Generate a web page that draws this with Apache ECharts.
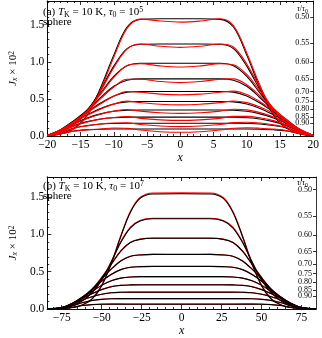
<!DOCTYPE html>
<html><head><meta charset="utf-8">
<script src="https://cdn.jsdelivr.net/npm/echarts@6/dist/echarts.min.js"></script>
<style>html,body{margin:0;padding:0;background:#fff}#c{width:322px;height:338px}</style>
</head><body><div id="c"></div>
<script>
// ---------- data ----------
const tauLabels = ['0.50','0.55','0.60','0.65','0.70','0.75','0.80','0.85','0.90','0.95'];
const labelPosA = [1.60,1.25,0.995,0.77,0.60,0.475,0.36,0.255,0.172,0.093];
const labelPosB = [1.60,1.25,0.995,0.77,0.60,0.475,0.36,0.255,0.172,0.093];

const xA = [-20,-18,-16,-14,-12,-10,-8,-6,-3,0,3,6,8,10,12,14,16,18,20];
const aBlack = [
 [0.006,0.032,0.103,0.284,0.648,1.09,1.469,1.572,1.58,1.58,1.58,1.572,1.469,1.09,0.648,0.284,0.103,0.032,0.006],
 [0.007,0.062,0.161,0.335,0.62,0.942,1.178,1.236,1.24,1.24,1.24,1.236,1.178,0.942,0.62,0.335,0.161,0.062,0.007],
 [0.008,0.078,0.196,0.353,0.578,0.804,0.946,0.98,0.98,0.98,0.98,0.98,0.946,0.804,0.578,0.353,0.196,0.078,0.008],
 [0.008,0.085,0.208,0.347,0.516,0.67,0.751,0.77,0.77,0.77,0.77,0.77,0.751,0.67,0.516,0.347,0.208,0.085,0.008],
 [0.008,0.084,0.204,0.324,0.444,0.54,0.591,0.6,0.6,0.6,0.6,0.6,0.591,0.54,0.444,0.324,0.204,0.084,0.008],
 [0.007,0.079,0.191,0.288,0.372,0.432,0.46,0.465,0.465,0.465,0.465,0.465,0.46,0.432,0.372,0.288,0.191,0.079,0.007],
 [0.007,0.07,0.168,0.242,0.298,0.334,0.348,0.35,0.35,0.35,0.35,0.35,0.348,0.334,0.298,0.242,0.168,0.07,0.007],
 [0.006,0.059,0.14,0.194,0.23,0.247,0.255,0.255,0.255,0.255,0.255,0.255,0.255,0.247,0.23,0.194,0.14,0.059,0.006],
 [0.004,0.046,0.108,0.141,0.162,0.169,0.172,0.172,0.172,0.172,0.172,0.172,0.172,0.169,0.162,0.141,0.108,0.046,0.004],
 [0.003,0.029,0.067,0.084,0.092,0.095,0.095,0.095,0.095,0.095,0.095,0.095,0.095,0.095,0.092,0.084,0.067,0.029,0.003]
];
const aRed = [
 [0.005,0.028,0.095,0.27,0.62,1.06,1.45,1.575,1.55,1.535,1.55,1.58,1.49,1.12,0.68,0.305,0.115,0.036,0.007],
 [0.006,0.057,0.152,0.32,0.6,0.92,1.17,1.24,1.21,1.195,1.21,1.24,1.2,0.97,0.65,0.355,0.175,0.068,0.008],
 [0.007,0.073,0.186,0.34,0.56,0.79,0.95,0.975,0.945,0.93,0.945,0.975,0.96,0.83,0.605,0.375,0.21,0.085,0.009],
 [0.007,0.08,0.197,0.335,0.5,0.66,0.765,0.765,0.735,0.72,0.735,0.765,0.77,0.69,0.54,0.368,0.222,0.092,0.009],
 [0.007,0.079,0.194,0.312,0.432,0.535,0.6,0.59,0.565,0.555,0.565,0.59,0.605,0.56,0.463,0.343,0.218,0.09,0.009],
 [0.006,0.074,0.181,0.278,0.362,0.43,0.47,0.45,0.428,0.42,0.428,0.45,0.472,0.45,0.39,0.305,0.204,0.085,0.008],
 [0.006,0.066,0.16,0.234,0.292,0.335,0.358,0.335,0.313,0.305,0.313,0.335,0.36,0.352,0.315,0.258,0.18,0.076,0.008],
 [0.005,0.055,0.133,0.188,0.228,0.25,0.263,0.238,0.218,0.21,0.218,0.238,0.265,0.265,0.245,0.207,0.15,0.064,0.007],
 [0.004,0.043,0.103,0.137,0.162,0.176,0.178,0.155,0.135,0.127,0.135,0.155,0.18,0.186,0.176,0.152,0.117,0.05,0.005],
 [0.003,0.027,0.064,0.082,0.095,0.108,0.103,0.08,0.058,0.05,0.058,0.08,0.105,0.112,0.105,0.093,0.074,0.032,0.004]
];

const xB = [-84,-75,-68,-62,-56,-50,-44,-38,-32,-26,-18,0,18,26,32,38,44,50,56,62,68,75,84];
const bBlack = [
 [0,0.005,0.019,0.054,0.131,0.309,0.603,0.973,1.298,1.483,1.542,1.545,1.542,1.483,1.298,0.973,0.603,0.309,0.131,0.054,0.019,0.005,0],
 [0,0.012,0.048,0.109,0.218,0.387,0.629,0.895,1.089,1.18,1.21,1.21,1.21,1.18,1.089,0.895,0.629,0.387,0.218,0.109,0.048,0.012,0],
 [0,0.016,0.066,0.142,0.256,0.417,0.597,0.777,0.891,0.934,0.948,0.948,0.948,0.934,0.891,0.777,0.597,0.417,0.256,0.142,0.066,0.016,0],
 [0.001,0.018,0.073,0.154,0.264,0.403,0.534,0.644,0.706,0.725,0.732,0.732,0.732,0.725,0.706,0.644,0.534,0.403,0.264,0.154,0.073,0.018,0.001],
 [0.001,0.018,0.08,0.16,0.257,0.371,0.463,0.528,0.56,0.568,0.571,0.571,0.571,0.568,0.56,0.528,0.463,0.371,0.257,0.16,0.08,0.018,0.001],
 [0,0.017,0.078,0.152,0.234,0.317,0.378,0.414,0.43,0.434,0.434,0.434,0.434,0.434,0.43,0.414,0.378,0.317,0.234,0.152,0.078,0.017,0],
 [0,0.016,0.072,0.14,0.205,0.26,0.299,0.317,0.323,0.325,0.325,0.325,0.325,0.325,0.323,0.317,0.299,0.26,0.205,0.14,0.072,0.016,0],
 [0,0.012,0.061,0.118,0.163,0.197,0.217,0.224,0.226,0.226,0.226,0.226,0.226,0.226,0.226,0.224,0.217,0.197,0.163,0.118,0.061,0.012,0],
 [0,0.009,0.044,0.085,0.113,0.129,0.137,0.139,0.139,0.139,0.139,0.139,0.139,0.139,0.139,0.139,0.137,0.129,0.113,0.085,0.044,0.009,0],
 [0,0.005,0.024,0.046,0.059,0.064,0.065,0.065,0.065,0.065,0.065,0.065,0.065,0.065,0.065,0.065,0.065,0.064,0.059,0.046,0.024,0.005,0]
];
const bRed = [
 [0,0.006,0.021,0.058,0.138,0.32,0.615,0.985,1.31,1.495,1.555,1.557,1.555,1.495,1.31,0.985,0.615,0.32,0.138,0.058,0.021,0.006,0],
 [0,0.013,0.05,0.113,0.224,0.395,0.638,0.905,1.098,1.188,1.217,1.217,1.217,1.188,1.098,0.905,0.638,0.395,0.224,0.113,0.05,0.013,0],
 [0,0.017,0.068,0.146,0.262,0.424,0.604,0.783,0.895,0.937,0.95,0.95,0.95,0.937,0.895,0.783,0.604,0.424,0.262,0.146,0.068,0.017,0],
 [0.001,0.019,0.075,0.158,0.269,0.408,0.538,0.646,0.707,0.726,0.732,0.731,0.732,0.726,0.707,0.646,0.538,0.408,0.269,0.158,0.075,0.019,0.001],
 [0.001,0.019,0.082,0.163,0.261,0.375,0.466,0.529,0.56,0.568,0.57,0.569,0.57,0.568,0.56,0.529,0.466,0.375,0.261,0.163,0.082,0.019,0.001],
 [0,0.018,0.08,0.155,0.237,0.32,0.38,0.415,0.43,0.433,0.433,0.432,0.433,0.433,0.43,0.415,0.38,0.32,0.237,0.155,0.08,0.018,0],
 [0,0.017,0.074,0.143,0.208,0.262,0.3,0.318,0.323,0.324,0.324,0.323,0.324,0.324,0.323,0.318,0.3,0.262,0.208,0.143,0.074,0.017,0],
 [0,0.013,0.063,0.12,0.165,0.198,0.218,0.224,0.225,0.225,0.225,0.224,0.225,0.225,0.225,0.224,0.218,0.198,0.165,0.12,0.063,0.013,0],
 [0,0.01,0.046,0.087,0.115,0.13,0.137,0.139,0.138,0.138,0.138,0.137,0.138,0.138,0.138,0.139,0.137,0.13,0.115,0.087,0.046,0.01,0],
 [0,0.006,0.025,0.047,0.06,0.065,0.066,0.065,0.064,0.064,0.064,0.064,0.064,0.064,0.064,0.065,0.066,0.065,0.06,0.047,0.025,0.006,0]
];

const xMajorA = [-20,-15,-10,-5,0,5,10,15,20];
const xMinorA = [-19,-18,-17,-16,-14,-13,-12,-11,-9,-8,-7,-6,-4,-3,-2,-1,1,2,3,4,6,7,8,9,11,12,13,14,16,17,18,19];
const xMajorB = [-75,-50,-25,0,25,50,75];
const xMinorB = [-80,-70,-65,-60,-55,-45,-40,-35,-30,-20,-15,-10,-5,5,10,15,20,30,35,40,45,55,60,65,70,80];
const yMajor = [0,0.5,1.0,1.5];
const yMinor = [0.1,0.2,0.3,0.4,0.6,0.7,0.8,0.9,1.1,1.2,1.3,1.4,1.6,1.7,1.8];

// ---------- chart ----------
const FONT = 'Liberation Serif';
const YMAX_A = 1.82, YMAX_B = 1.77;
const rich = {
  i: {fontFamily: FONT, fontStyle: 'italic', fontSize: 11},
  s: {fontFamily: FONT, fontStyle: 'italic', fontSize: 8, verticalAlign: 'bottom', lineHeight: 8},
  p: {fontFamily: FONT, fontSize: 7.5, verticalAlign: 'top', lineHeight: 7}
};
const fmtX = v => (v < 0 ? '\u2212' : '') + Math.abs(v);

function xAxis(grid, pos, min, max, vals, len, labels, name) {
  return {
    type: 'value', gridIndex: grid, position: pos, min: min, max: max,
    axisLine: {show: true, onZero: false, lineStyle: {color: '#000', width: 0.8}},
    axisTick: {show: true, inside: true, length: len, customValues: vals, lineStyle: {color: '#000', width: 0.8}},
    axisLabel: {show: labels, customValues: vals, formatter: fmtX, color: '#000', fontFamily: FONT, fontSize: 11.5, margin: 3},
    splitLine: {show: false},
    name: name || '', nameLocation: 'middle', nameGap: 16,
    nameTextStyle: {fontFamily: FONT, fontStyle: 'italic', fontSize: 12, color: '#000'}
  };
}
function yAxis(grid, pos, max, vals, len, labels, name) {
  return {
    type: 'value', gridIndex: grid, position: pos, min: 0, max: max,
    axisLine: {show: true, onZero: false, lineStyle: {color: '#000', width: 0.8}},
    axisTick: {show: true, inside: true, length: len, customValues: vals, lineStyle: {color: '#000', width: 0.8}},
    axisLabel: {show: labels, customValues: vals, formatter: v => v.toFixed(1), color: '#000', fontFamily: FONT, fontSize: 11.5, margin: 3},
    splitLine: {show: false},
    name: name || '', nameLocation: 'middle', nameGap: 21, nameRotate: 90,
    nameTextStyle: {fontFamily: FONT, fontSize: 11, color: '#000', rich: rich}
  };
}
function tauAxis(grid, max, pos) {
  return {
    type: 'value', gridIndex: grid, position: 'right', min: 0, max: max,
    axisLine: {show: true, onZero: false, lineStyle: {color: '#000', width: 0.8}},
    axisTick: {show: true, inside: true, length: 3, customValues: pos, lineStyle: {color: '#000', width: 0.8}},
    axisLabel: {show: true, inside: true, customValues: pos, margin: 4, color: '#000', fontFamily: FONT, fontSize: 8,
      formatter: v => { let b = 0; pos.forEach((p, i) => { if (Math.abs(p - v) < Math.abs(pos[b] - v)) b = i; }); return tauLabels[b]; }},
    splitLine: {show: false}
  };
}

const yName = '{i|J}{s|x} × 10{p|2}';
const xAxes = [
  xAxis(0, 'bottom', -20, 20, xMajorA, 4, true, 'x'),
  xAxis(0, 'bottom', -20, 20, xMinorA, 2, false),
  xAxis(0, 'top', -20, 20, xMajorA, 4, false),
  xAxis(0, 'top', -20, 20, xMinorA, 2, false),
  xAxis(1, 'bottom', -84, 84, xMajorB, 4, true, 'x'),
  xAxis(1, 'bottom', -84, 84, xMinorB, 2, false),
  xAxis(1, 'top', -84, 84, xMajorB, 4, false),
  xAxis(1, 'top', -84, 84, xMinorB, 2, false)
];
const yAxes = [
  yAxis(0, 'left', YMAX_A, yMajor, 4, true, yName),
  yAxis(0, 'left', YMAX_A, yMinor, 2, false),
  tauAxis(0, YMAX_A, labelPosA),
  yAxis(1, 'left', YMAX_B, yMajor, 4, true, yName),
  yAxis(1, 'left', YMAX_B, yMinor, 2, false),
  tauAxis(1, YMAX_B, labelPosB)
];

const series = [];
function addSeries(xs, arr, color, xi, yi, z) {
  arr.forEach(vals => {
    series.push({
      type: 'line', xAxisIndex: xi, yAxisIndex: yi, z: z,
      data: xs.map((x, i) => [x, vals[i]]),
      showSymbol: false, smooth: 0.35, silent: true,
      lineStyle: {color: color, width: 1.1}
    });
  });
}
addSeries(xA, aBlack, '#000', 0, 0, 2);
addSeries(xA, aRed, '#ff0000', 0, 0, 3);
addSeries(xB, bRed, '#ff0000', 4, 3, 2);
addSeries(xB, bBlack, '#000', 4, 3, 3);

function title(txt, left, top, size) {
  return {text: txt, left: left, top: top, padding: 0, itemGap: 0,
    textStyle: {fontFamily: FONT, fontSize: size, fontWeight: 'normal', color: '#000', lineHeight: size + 2,
      rich: {
        n: {fontFamily: FONT, fontSize: size, fontWeight: 'normal', color: '#000'},
        i: {fontFamily: FONT, fontStyle: 'italic', fontSize: size, fontWeight: 'normal', color: '#000'},
        sr: {fontFamily: FONT, fontSize: size * 0.72, fontWeight: 'normal', color: '#000', verticalAlign: 'bottom', lineHeight: size * 0.7},
        p: {fontFamily: FONT, fontSize: size * 0.72, fontWeight: 'normal', color: '#000', verticalAlign: 'top', lineHeight: size * 0.7}
      }}};
}

const chart = echarts.init(document.getElementById('c'), null, {renderer: 'canvas'});
chart.setOption({
  animation: false,
  backgroundColor: '#fff',
  grid: [
    {left: 34, top: 1, width: 282, height: 135},
    {left: 34, top: 177, width: 282, height: 137}
  ],
  title: [
    title('{n|(a) }{i|T}{sr|K}{n| = 10 K, }{i|τ}{sr|0}{n| = 10}{p|5}', 43, 6, 11),
    title('{n|sphere}', 43, 16, 11),
    title('{i|τ}{n|/}{i|τ}{sr|0}', 297, 4, 8),
    title('{n|(b) }{i|T}{sr|K}{n| = 10 K, }{i|τ}{sr|0}{n| = 10}{p|7}', 43, 180, 11),
    title('{n|sphere}', 43, 189.5, 11),
    title('{i|τ}{n|/}{i|τ}{sr|0}', 297, 178, 8)
  ],
  xAxis: xAxes,
  yAxis: yAxes,
  series: series
});
</script></body></html>
